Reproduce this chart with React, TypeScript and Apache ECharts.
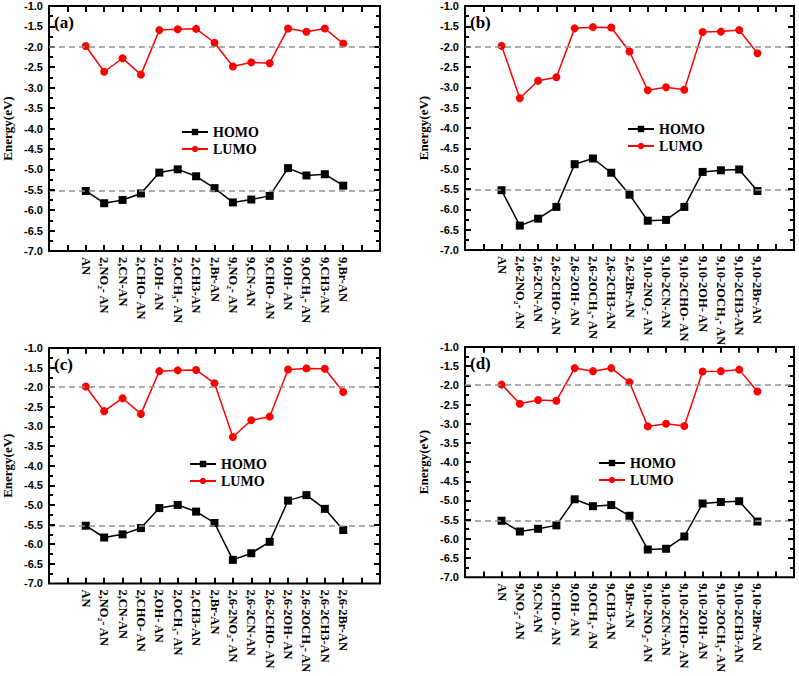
import React, { useEffect, useRef } from "react";
import * as echarts from "echarts";

// Shared values (eV)
const AN_HOMO = -5.53;
const AN_LUMO = -1.98;
const HOMO_REF = -5.53;
const LUMO_REF = -1.99;

const mono2Labels = ["2,NO₂- AN", "2,CN-AN", "2,CHO- AN", "2,OH- AN", "2,OCH₃- AN", "2,CH3-AN", "2,Br-AN"];
const mono9Labels = ["9,NO₂- AN", "9,CN-AN", "9,CHO- AN", "9,OH- AN", "9,OCH₃- AN", "9,CH3-AN", "9,Br-AN"];
const di26Labels = ["2,6-2NO₂- AN", "2,6-2CN-AN", "2,6-2CHO- AN", "2,6-2OH- AN", "2,6-2OCH₃- AN", "2,6-2CH3-AN", "2,6-2Br-AN"];
const di910Labels = ["9,10-2NO₂- AN", "9,10-2CN-AN", "9,10-2CHO- AN", "9,10-2OH- AN", "9,10-2OCH₃- AN", "9,10-2CH3-AN", "9,10-2Br-AN"];

const mono2Homo = [-5.83, -5.75, -5.59, -5.08, -5.0, -5.17, -5.46];
const mono9Homo = [-5.81, -5.74, -5.65, -4.97, -5.15, -5.12, -5.4];
const di26Homo = [-6.4, -6.23, -5.94, -4.89, -4.75, -5.1, -5.64];
const di910Homo = [-6.28, -6.26, -5.94, -5.08, -5.04, -5.02, -5.55];

const mono2Lumo = [-2.61, -2.28, -2.68, -1.59, -1.57, -1.56, -1.9];
const mono9Lumo = [-2.48, -2.38, -2.4, -1.55, -1.63, -1.55, -1.92];
const di26Lumo = [-3.27, -2.84, -2.75, -1.55, -1.52, -1.53, -2.12];
const di910Lumo = [-3.07, -3.0, -3.06, -1.64, -1.63, -1.59, -2.16];

const panelTags = ["(a)", "(b)", "(c)", "(d)"];
const panelLabels = [
  ["AN", ...mono2Labels, ...mono9Labels],
  ["AN", ...di26Labels, ...di910Labels],
  ["AN", ...mono2Labels, ...di26Labels],
  ["AN", ...mono9Labels, ...di910Labels],
];
const panelHomo = [
  [AN_HOMO, ...mono2Homo, ...mono9Homo],
  [AN_HOMO, ...di26Homo, ...di910Homo],
  [AN_HOMO, ...mono2Homo, ...di26Homo],
  [AN_HOMO, ...mono9Homo, ...di910Homo],
];
const panelLumo = [
  [AN_LUMO, ...mono2Lumo, ...mono9Lumo],
  [AN_LUMO, ...di26Lumo, ...di910Lumo],
  [AN_LUMO, ...mono2Lumo, ...di26Lumo],
  [AN_LUMO, ...mono9Lumo, ...di910Lumo],
];

const X_MIN = 0;
const X_MAX = 18;
const Y_MIN = -7;
const Y_MAX = -1;
const Y_STEP = 0.5;

const grids = [
  { left: 49, top: 6, width: 331, height: 245 },
  { left: 465, top: 6, width: 329, height: 244 },
  { left: 49, top: 348, width: 331, height: 246 },
  { left: 465, top: 347, width: 329, height: 244 },
];
const legendPos = [
  { left: 176, top: 120 },
  { left: 622, top: 117 },
  { left: 184, top: 452 },
  { left: 593, top: 451 },
];

const SERIF = "'Liberation Serif', 'Times New Roman', serif";
const SANS = "'Liberation Sans', Arial, sans-serif";
const OFFSET = 2; // first category sits at x = 2
const TICK_PX = 6;
const MINOR_PX = 4;

// inward frame ticks as solid mark-line segments, in data units of each panel
const frameTicks = (g: { width: number; height: number }) => {
  const dx = ((X_MAX - X_MIN) / g.width) * TICK_PX;
  const dy = ((Y_MAX - Y_MIN) / g.height) * TICK_PX;
  const dxm = ((X_MAX - X_MIN) / g.width) * MINOR_PX;
  const out: any[] = [];
  for (let v = X_MIN + 1; v < X_MAX; v++) {
    out.push([{ coord: [v, Y_MIN] }, { coord: [v, Y_MIN + dy] }]);
    out.push([{ coord: [v, Y_MAX] }, { coord: [v, Y_MAX - dy] }]);
  }
  const n = Math.round((Y_MAX - Y_MIN) / Y_STEP);
  for (let k = 0; k < n; k++) {
    const major = Y_MIN + k * Y_STEP;
    const minor = major + Y_STEP / 2;
    if (k > 0) {
      out.push([{ coord: [X_MIN, major] }, { coord: [X_MIN + dx, major] }]);
      out.push([{ coord: [X_MAX, major] }, { coord: [X_MAX - dx, major] }]);
    }
    out.push([{ coord: [X_MIN, minor] }, { coord: [X_MIN + dxm, minor] }]);
    out.push([{ coord: [X_MAX, minor] }, { coord: [X_MAX - dxm, minor] }]);
  }
  return out;
};

export default function App() {
  const ref = useRef<HTMLDivElement>(null);
  useEffect(() => {
    if (!ref.current) return;
    const chart = echarts.init(ref.current, undefined, { renderer: "svg" });
    const xAxis: any[] = [];
    const yAxis: any[] = [];
    const series: any[] = [];
    const legend: any[] = [];
    const graphic: any[] = [];
    grids.forEach((g, i) => {
      const labels = panelLabels[i];
      xAxis.push({
        type: "value", gridIndex: i, min: X_MIN, max: X_MAX, interval: 1, position: "bottom",
        axisLine: { show: false }, axisTick: { show: false }, splitLine: { show: false },
        axisLabel: {
          show: true, rotate: -90, margin: 6, fontFamily: SERIF, fontWeight: "bold", fontSize: 12.5, color: "#000",
          formatter: (v: number) => labels[v - OFFSET] ?? "",
        },
      });
      yAxis.push({
        type: "value", gridIndex: i, min: Y_MIN, max: Y_MAX, interval: Y_STEP, position: "left",
        name: "Energy(eV)", nameLocation: "middle", nameGap: 35,
        nameTextStyle: { fontFamily: SERIF, fontWeight: "bold", fontSize: 13, color: "#000" },
        axisLine: { show: false }, axisTick: { show: false },
        splitLine: { show: false },
        axisLabel: { fontFamily: SANS, fontWeight: "bold", fontSize: 11, color: "#000", margin: 6, formatter: (v: number) => v.toFixed(1) },
      });
      const dashed = { type: [6, 4], color: "#8c9494", width: 1.5 };
      series.push({
        type: "line", name: "HOMO", xAxisIndex: i, yAxisIndex: i,
        data: panelHomo[i].map((v, k) => [k + OFFSET, v]),
        symbol: "rect", symbolSize: 8, itemStyle: { color: "#000" }, lineStyle: { color: "#000", width: 1.5 },
        markLine: {
          silent: true, symbol: "none", label: { show: false },
          lineStyle: { type: "solid", color: "#000", width: 2 },
          data: [{ yAxis: HOMO_REF, lineStyle: dashed }, ...frameTicks(g)],
        },
        z: 3,
      });
      series.push({
        type: "line", name: "LUMO", xAxisIndex: i, yAxisIndex: i,
        data: panelLumo[i].map((v, k) => [k + OFFSET, v]),
        symbol: "circle", symbolSize: 8, itemStyle: { color: "#ff0000" }, lineStyle: { color: "#ff0000", width: 1.5 },
        markLine: { silent: true, symbol: "none", label: { show: false }, lineStyle: dashed, data: [{ yAxis: LUMO_REF }] },
        z: 3,
      });
      legend.push({
        ...legendPos[i], orient: "vertical", itemGap: 3, itemWidth: 26, itemHeight: 8,
        data: ["HOMO", "LUMO"],
        textStyle: { fontFamily: SERIF, fontWeight: "bold", fontSize: 14, color: "#000" },
      });
      graphic.push({
        type: "text", left: g.left + 5, top: g.top + 8,
        style: { text: panelTags[i], font: `bold 17px ${SERIF}`, fill: "#000" },
      });
    });
    chart.setOption({
      animation: false,
      backgroundColor: "#fff",
      grid: grids.map((g) => ({ ...g, show: true, borderColor: "#000", borderWidth: 2, backgroundColor: "transparent" })),
      xAxis, yAxis, series, legend, graphic,
    });
    return () => chart.dispose();
  }, []);
  return <div ref={ref} style={{ position: "fixed", left: 0, top: 0, width: 799, height: 676 }} />;
}
